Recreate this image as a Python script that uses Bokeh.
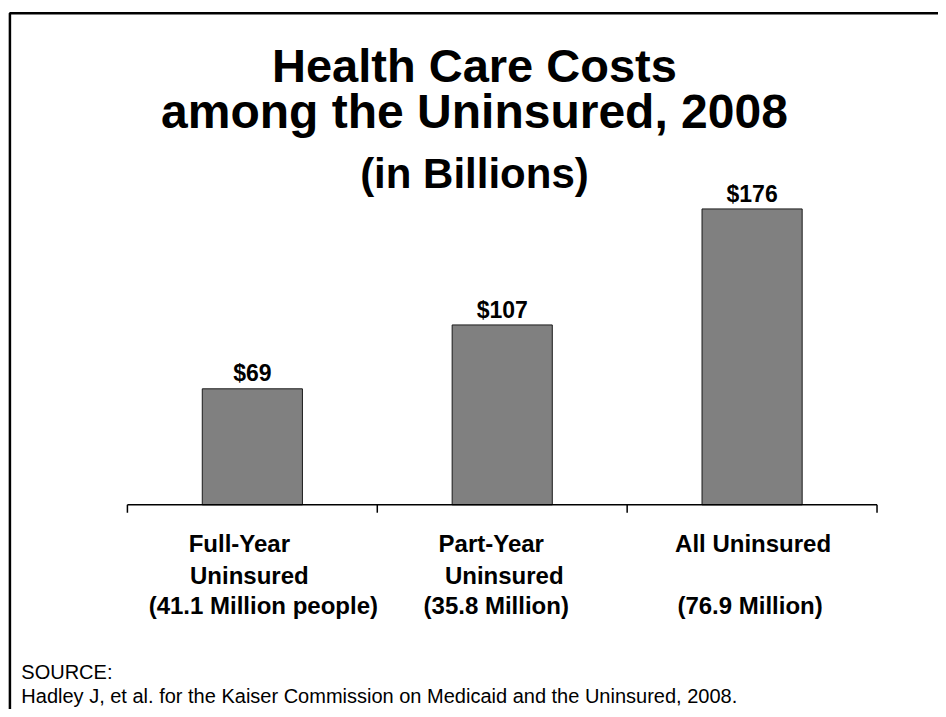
from bokeh.plotting import figure
from bokeh.models import Range1d
from bokeh.core.properties import value
from bokeh.embed import file_html
from bokeh.resources import INLINE
import numpy as np

# ---------------- data ----------------
categories = ["Full-Year Uninsured", "Part-Year Uninsured", "All Uninsured"]
costs = [69, 107, 176]                      # billions of dollars
cost_labels = ["$69", "$107", "$176"]
label_row1 = ["Full-Year", "Part-Year", "All Uninsured"]
label_row2 = ["Uninsured", "Uninsured", ""]
label_row3 = ["(41.1 Million people)", "(35.8 Million)", "(76.9 Million)"]
title_lines = ["Health Care Costs", "among the Uninsured, 2008", "(in Billions)"]
source_lines = ["SOURCE:",
                "Hadley J, et al. for the Kaiser Commission on Medicaid and the Uninsured, 2008."]

# ---------------- layout ----------------
W, H = 938, 709            # figure size (fits the window with its 8px margin)
REF_W, REF_H = 946, 717    # design space
AXIS_Y = 510               # design y of the category axis
FIRST_X = 254              # design x of first category centre
CAT_W = 252                # design pixels per category
UNIT = 1.70                # design pixels per billion
BASE_SHIFT = 0.41          # renderer draws text this many em below the anchor

def xd(px):
    return (px - FIRST_X) / CAT_W

def yd(py):
    return (AXIS_Y - py) / UNIT

def ybase(py, size):
    return yd(py - BASE_SHIFT * size)

FONT = value("Liberation Sans")

p = figure(width=W, height=H, x_range=Range1d(xd(0), xd(REF_W)),
           y_range=Range1d(yd(REF_H), yd(0)),
           output_backend="svg", toolbar_location=None,
           x_axis_location=None, y_axis_location=None,
           min_border=0, outline_line_color=None,
           background_fill_color="white", border_fill_color="white")
p.grid.visible = False

idx = np.arange(len(categories))

# slide border
p.line(x=[xd(9.5), xd(9.5), xd(1000)], y=[yd(800), yd(13), yd(13)],
       line_color="black", line_width=2.5)

# bars
p.vbar(x=idx, top=costs, bottom=0, width=101 / CAT_W,
       fill_color="#808080", line_color="#1a1a1a", line_width=1)

# category axis with ticks at the category boundaries
bounds = np.arange(len(categories) + 1) - 0.5
p.line(x=[bounds[0], bounds[-1]], y=[0, 0], line_color="black", line_width=1.5)
p.segment(x0=bounds, y0=[0] * len(bounds), x1=bounds, y1=[-8 / UNIT] * len(bounds),
          line_color="black", line_width=1.5)

# value labels
VSIZE = 23
p.text(x=idx, y=costs, text=cost_labels, text_align="center",
       text_baseline="alphabetic", y_offset=-(6 + BASE_SHIFT * VSIZE),
       text_font=FONT, text_font_style="bold", text_font_size=f"{VSIZE}px",
       text_color="black")

# category labels (three rows)
CSIZE = 24
rows = [(label_row1, 559, [-13, -11, 1]),
        (label_row2, 591, [-3, 2, 0]),
        (label_row3, 622, [11, -6, -2])]
for texts, base, offs in rows:
    p.text(x=idx, y=[ybase(base, CSIZE)] * len(idx), text=texts, x_offset=offs,
           text_align="center", text_baseline="alphabetic", text_font=FONT,
           text_font_style="bold", text_font_size=f"{CSIZE}px", text_color="black")

# title
title_base = [85, 132, 192]
title_size = [47, 48, 42]
for t, b, s in zip(title_lines, title_base, title_size):
    p.text(x=[xd(478)], y=[ybase(b, s)], text=[t], text_align="center",
           text_baseline="alphabetic", text_font=FONT, text_font_style="bold",
           text_font_size=f"{s}px", text_color="black")

# source
SSIZE = 20
for t, b in zip(source_lines, [687, 712]):
    p.text(x=[xd(21)], y=[ybase(b, SSIZE)], text=[t], text_align="left",
           text_baseline="alphabetic", text_font=FONT,
           text_font_size=f"{SSIZE}px", text_color="black")

open("out.html", "w").write(file_html(p, INLINE))
